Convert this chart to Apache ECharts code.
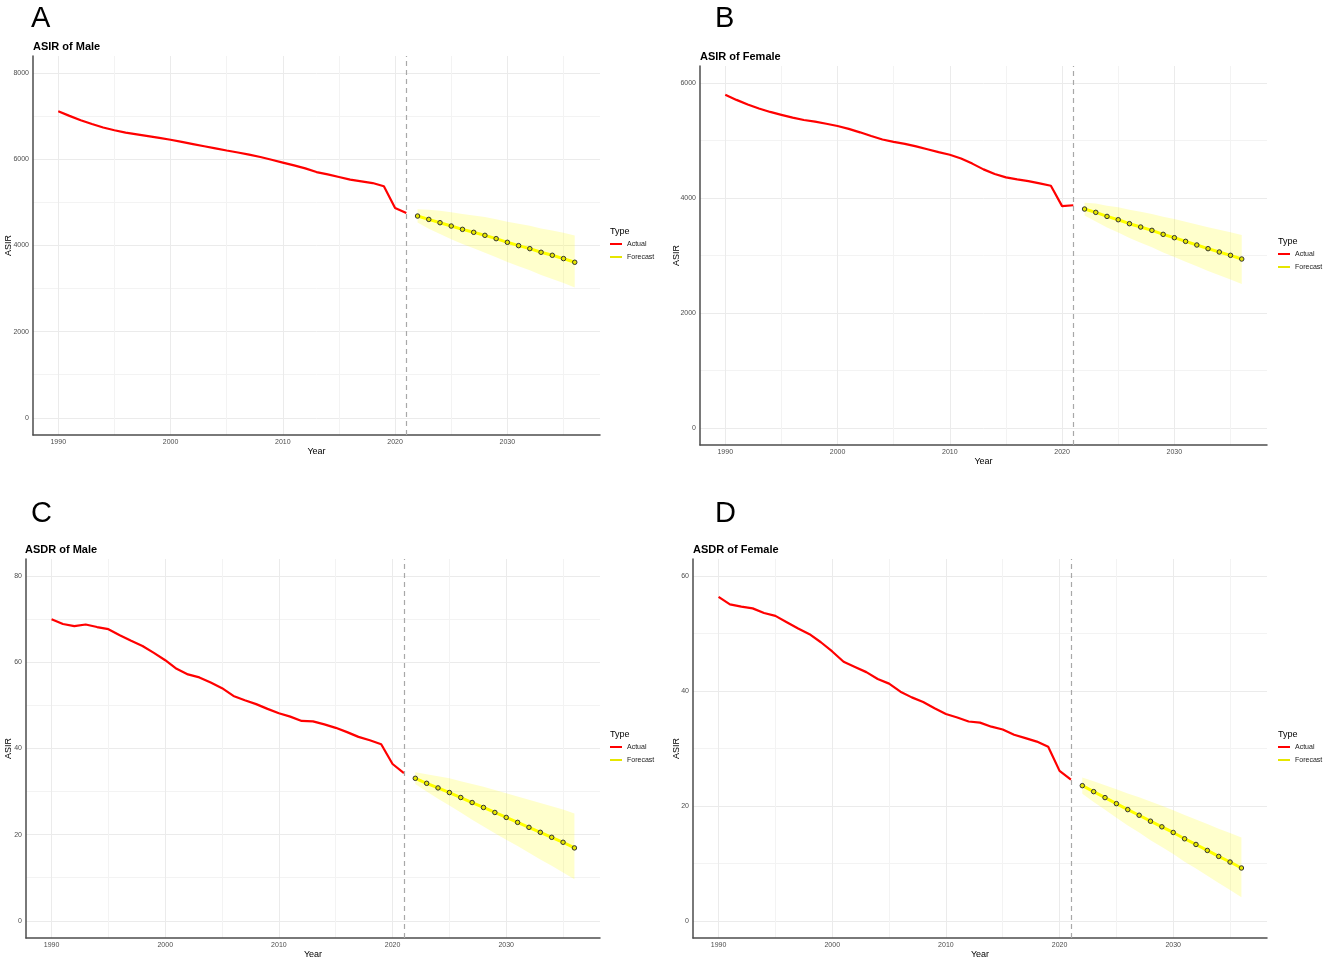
<!DOCTYPE html>
<html>
<head>
<meta charset="utf-8">
<script src="https://cdn.jsdelivr.net/npm/echarts@6/dist/echarts.min.js"></script>
<style>
html,body{margin:0;padding:0;background:#ffffff;}
#chart{width:1325px;height:962px;}
</style>
</head>
<body>
<div id="chart"></div>
<script>
// ---------- DATA ----------
const actualYears = [1990,1991,1992,1993,1994,1995,1996,1997,1998,1999,2000,2001,2002,2003,2004,2005,2006,2007,2008,2009,2010,2011,2012,2013,2014,2015,2016,2017,2018,2019,2020,2021];
const forecastYears = [2022,2023,2024,2025,2026,2027,2028,2029,2030,2031,2032,2033,2034,2035,2036];
const cutoffYear = 2021;

// A: ASIR of Male
const asirMaleActual = [7115,7010,6910,6820,6740,6675,6620,6580,6540,6500,6455,6405,6355,6305,6255,6205,6160,6110,6055,5990,5925,5860,5790,5705,5650,5590,5530,5490,5450,5375,4870,4755];
const asirMaleForecast = [4684,4606,4529,4452,4375,4306,4236,4159,4074,3997,3927,3843,3773,3696,3611];
const asirMaleUpper = [4844,4832,4806,4772,4733,4698,4659,4611,4554,4503,4458,4397,4350,4295,4231];
const asirMaleLower = [4532,4391,4266,4148,4035,3934,3834,3729,3618,3516,3423,3316,3225,3127,3022];

// B: ASIR of Female
const asirFemaleActual = [5800,5710,5630,5560,5500,5450,5400,5360,5330,5295,5255,5205,5145,5080,5020,4980,4945,4900,4850,4800,4755,4690,4600,4500,4420,4360,4325,4295,4255,4215,3860,3875];
const asirFemaleForecast = [3809,3751,3681,3623,3554,3496,3438,3368,3310,3246,3183,3119,3061,3003,2939];
const asirFemaleUpper = [3917,3904,3868,3839,3795,3760,3724,3673,3634,3587,3541,3493,3450,3407,3357];
const asirFemaleLower = [3697,3593,3487,3399,3304,3222,3142,3051,2974,2892,2811,2731,2657,2584,2505];

// C: ASDR of Male
const asdrMaleActual = [70.0,68.9,68.4,68.8,68.2,67.7,66.3,65.0,63.8,62.2,60.5,58.5,57.2,56.5,55.3,54.0,52.2,51.2,50.3,49.2,48.2,47.4,46.4,46.3,45.6,44.8,43.8,42.7,41.9,41.0,36.4,34.3];
const asdrMaleForecast = [33.08,31.92,30.85,29.77,28.62,27.46,26.31,25.15,24.00,22.85,21.69,20.54,19.38,18.23,16.92];
const asdrMaleUpper = [34.48,34.02,33.55,33.07,32.42,31.76,31.11,30.35,29.60,28.85,28.09,27.34,26.58,25.83,24.92];
const asdrMaleLower = [31.78,30.02,28.35,26.77,25.12,23.46,21.91,20.35,18.80,17.35,15.79,14.24,12.78,11.23,9.62];

// D: ASDR of Female
const asdrFemaleActual = [56.4,55.1,54.7,54.4,53.6,53.1,52.0,50.9,49.9,48.5,46.9,45.1,44.2,43.3,42.1,41.3,39.9,38.9,38.1,37.0,36.0,35.4,34.7,34.5,33.8,33.3,32.4,31.8,31.2,30.3,26.1,24.6];
const asdrFemaleForecast = [23.53,22.49,21.45,20.40,19.36,18.38,17.34,16.36,15.38,14.28,13.29,12.25,11.21,10.23,9.19];
const asdrFemaleUpper = [24.93,24.30,23.62,22.92,22.18,21.49,20.75,20.01,19.26,18.40,17.65,16.84,16.04,15.29,14.49];
const asdrFemaleLower = [22.13,20.70,19.32,17.93,16.61,15.36,14.03,12.83,11.63,10.30,9.09,7.82,6.56,5.36,4.09];

// Axis tick labels
const xTickYears = [1990,2000,2010,2020,2030];
const yTicksA = [0,2000,4000,6000,8000];
const yTicksB = [0,2000,4000,6000];
const yTicksC = [0,20,40,60,80];
const yTicksD = [0,20,40,60];

const letters = ['A','B','C','D'];
const panelTitles = ['ASIR of Male','ASIR of Female','ASDR of Male','ASDR of Female'];
const yAxisNames = ['ASIR','ASIR','ASIR','ASIR'];
const legendTitle = 'Type';
const legendNames = ['Actual','Forecast'];

// ---------- STYLE / LAYOUT ----------
const FONT = '"Liberation Sans", Arial, sans-serif';
const MAJOR = '#ebebeb', MINOR = '#f3f3f3', NONE = 'rgba(0,0,0,0)';

function isMult(v, m) { const q = v / m; return Math.abs(q - Math.round(q)) < 1e-6; }
function gridColors(min, step, major) {
  const period = Math.round(major / step);
  const arr = [];
  for (let i = 0; i < period; i++) {
    const v = min + i * step;
    if (isMult(v, major)) arr.push(MAJOR);
    else if (isMult(v, major / 2)) arr.push(MINOR);
    else arr.push(NONE);
  }
  return arr;
}

const X_MIN = 1987.75, X_MAX = 2038.25, X_STEP = 0.25, X_MAJOR = 10;

const panels = [
  { actual: asirMaleActual, fc: asirMaleForecast, hi: asirMaleUpper, lo: asirMaleLower, ticks: yTicksA,
    ymin: -400, ymax: 8400, ystep: 200, ymajor: 2000, yNameGap: 20,
    grid: { left: 33, top: 56, width: 567, height: 379 }, letter: [31, 4], title: [33, 41], legend: [610, 227] },
  { actual: asirFemaleActual, fc: asirFemaleForecast, hi: asirFemaleUpper, lo: asirFemaleLower, ticks: yTicksB,
    ymin: -300, ymax: 6300, ystep: 100, ymajor: 2000, yNameGap: 19,
    grid: { left: 700, top: 66, width: 567, height: 379 }, letter: [715, 4], title: [700, 51], legend: [1278, 237] },
  { actual: asdrMaleActual, fc: asdrMaleForecast, hi: asdrMaleUpper, lo: asdrMaleLower, ticks: yTicksC,
    ymin: -4, ymax: 84, ystep: 2, ymajor: 20, yNameGap: 13,
    grid: { left: 26, top: 559, width: 574, height: 379 }, letter: [31, 499], title: [25, 544], legend: [610, 730] },
  { actual: asdrFemaleActual, fc: asdrFemaleForecast, hi: asdrFemaleUpper, lo: asdrFemaleLower, ticks: yTicksD,
    ymin: -3, ymax: 63, ystep: 1, ymajor: 20, yNameGap: 12,
    grid: { left: 693, top: 559, width: 574, height: 379 }, letter: [715, 499], title: [693, 544], legend: [1278, 730] }
];

const option = {
  animation: false,
  backgroundColor: '#ffffff',
  title: [],
  legend: [],
  grid: [],
  xAxis: [],
  yAxis: [],
  series: []
};

panels.forEach((p, i) => {
  option.grid.push(Object.assign({ outerBoundsMode: 'none', containLabel: false }, p.grid));

  option.title.push({ text: letters[i], left: p.letter[0], top: p.letter[1], padding: 0,
    textStyle: { fontFamily: FONT, fontSize: 29, fontWeight: 'normal', color: '#000' } });
  option.title.push({ text: panelTitles[i], left: p.title[0], top: p.title[1], padding: 0,
    textStyle: { fontFamily: FONT, fontSize: 11, fontWeight: 'bold', color: '#000' } });
  option.title.push({ text: legendTitle, left: p.legend[0], top: p.legend[1], padding: 0,
    textStyle: { fontFamily: FONT, fontSize: 9, fontWeight: 'normal', color: '#000' } });

  option.legend.push({
    left: p.legend[0], top: p.legend[1] + 13, orient: 'vertical', padding: 0,
    data: legendNames, icon: 'rect', itemWidth: 12, itemHeight: 2, itemGap: 5,
    selectedMode: false, itemStyle: { borderWidth: 0 },
    textStyle: { fontFamily: FONT, fontSize: 7, color: '#1a1a1a', lineHeight: 8 }
  });

  option.xAxis.push({
    gridIndex: i, type: 'value', min: X_MIN, max: X_MAX, interval: X_STEP,
    name: 'Year', nameLocation: 'middle', nameGap: 12, nameMoveOverlap: false,
    nameTextStyle: { fontFamily: FONT, fontSize: 9, color: '#000' },
    axisLine: { show: true, onZero: false, lineStyle: { color: '#4d4d4d', width: 1.5 } },
    axisTick: { show: false },
    axisLabel: { fontFamily: FONT, fontSize: 7, color: '#4d4d4d', margin: 4,
      formatter: v => (xTickYears.some(t => Math.abs(t - v) < 1e-6) ? String(Math.round(v)) : '') },
    splitLine: { show: true, showMinLine: true, showMaxLine: true,
      lineStyle: { color: gridColors(X_MIN, X_STEP, X_MAJOR), width: 1 } }
  });

  option.yAxis.push({
    gridIndex: i, type: 'value', min: p.ymin, max: p.ymax, interval: p.ystep,
    name: yAxisNames[i], nameLocation: 'middle', nameGap: p.yNameGap, nameMoveOverlap: false,
    nameTextStyle: { fontFamily: FONT, fontSize: 9, color: '#000' },
    axisLine: { show: true, onZero: false, lineStyle: { color: '#4d4d4d', width: 1.5 } },
    axisTick: { show: false },
    axisLabel: { fontFamily: FONT, fontSize: 7, color: '#4d4d4d', margin: 4,
      formatter: v => (p.ticks.some(t => Math.abs(t - v) < 1e-6) ? String(Math.round(v)) : '') },
    splitLine: { show: true, showMinLine: true, showMaxLine: true,
      lineStyle: { color: gridColors(p.ymin, p.ystep, p.ymajor), width: 1 } }
  });

  const yrs = forecastYears, hi = p.hi, lo = p.lo;
  option.series.push({
    type: 'custom', name: 'ribbon', xAxisIndex: i, yAxisIndex: i, silent: true, z: 1,
    data: yrs.map((y, k) => [y, lo[k], hi[k]]),
    encode: { x: 0, y: [1, 2] },
    renderItem: (params, api) => {
      if (params.dataIndex !== 0) return;
      const pts = [];
      for (let k = 0; k < yrs.length; k++) pts.push(api.coord([yrs[k], hi[k]]));
      for (let k = yrs.length - 1; k >= 0; k--) pts.push(api.coord([yrs[k], lo[k]]));
      return { type: 'polygon', shape: { points: pts }, style: { fill: 'rgba(255,255,0,0.2)' } };
    }
  });

  option.series.push({
    type: 'line', name: 'Actual', xAxisIndex: i, yAxisIndex: i, z: 2,
    data: actualYears.map((y, k) => [y, p.actual[k]]),
    color: '#ff0000', showSymbol: false, symbol: 'none',
    lineStyle: { color: '#ff0000', width: 2.2 },
    itemStyle: { color: '#ff0000' },
    markLine: {
      silent: true, symbol: ['none', 'none'], label: { show: false },
      lineStyle: { color: '#a8a8a8', width: 1.2, type: [5, 4] },
      data: [{ xAxis: cutoffYear }]
    }
  });

  option.series.push({
    type: 'line', name: 'Forecast', xAxisIndex: i, yAxisIndex: i, z: 3,
    data: forecastYears.map((y, k) => [y, p.fc[k]]),
    color: '#ffff00', symbol: 'circle', symbolSize: 4.5, showSymbol: true,
    lineStyle: { color: '#ffff00', width: 3 },
    itemStyle: { color: '#e6e600', borderColor: '#333333', borderWidth: 1 }
  });
});

const chart = echarts.init(document.getElementById('chart'), null, { renderer: 'canvas' });
chart.setOption(option);
</script>
</body>
</html>
